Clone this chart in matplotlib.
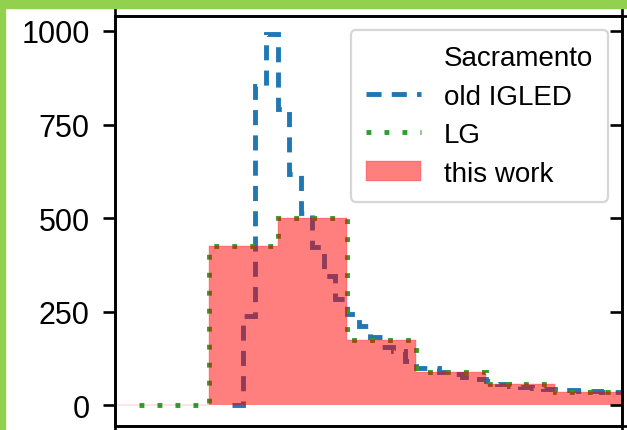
import numpy as np
import matplotlib.pyplot as plt
from matplotlib.lines import Line2D
from matplotlib.patches import Rectangle

# ---------------------------------------------------------
# Counts per bin
# ---------------------------------------------------------
# coarse bins (width 1) used by LG and this work
lg_start = 0.0
lg_counts = [0, 426, 500, 176, 90, 58, 36, 30]

work_start = -1.0
work_counts = [0, 0, 426, 500, 176, 90, 58, 36, 30]

# old IGLED has finer bins (width 1/6)
igled_start = 4 / 3
igled_counts = [0, 238, 853, 992, 791, 617, 515, 422, 346, 283,
                245, 213, 183, 155, 145, 118, 101, 99, 88, 84,
                77, 70, 64, 57, 52, 49, 46, 44, 42, 40,
                39, 38, 37, 36, 35]

yticks = [0, 250, 500, 750, 1000]
labels = ['Sacramento', 'old IGLED', 'LG', 'this work']

lg_edges = lg_start + np.arange(len(lg_counts) + 1)
work_edges = work_start + np.arange(len(work_counts) + 1)
igled_edges = igled_start + np.arange(len(igled_counts) + 1) / 6

plt.rcParams['font.family'] = ['Liberation Sans', 'DejaVu Sans']

W, H = 627, 431
fig = plt.figure(figsize=(W / 100, H / 100), dpi=100)
left, right, bottom, top = 115 / W, 622 / W, 1 - 427 / H, 1 - 17 / H
ax = fig.add_axes([left, bottom, right - left, top - bottom])

lw = 3.5
h0, = ax.plot([], [], ' ', label=labels[0])
h1 = ax.stairs(igled_counts, igled_edges, color='#1f77b4', lw=lw,
               linestyle=(0, (3.1, 2.1)), label=labels[1])
h2 = ax.stairs(lg_counts, lg_edges, color='#2ca02c', lw=lw,
               linestyle=(0, (1.0, 2.7)), label=labels[2])
h3 = ax.stairs(work_counts, work_edges, fill=True, facecolor='red',
               edgecolor='red', lw=0.3, alpha=0.5, zorder=3, label=labels[3])

ylim = (-55, 1040)
ax.set_xlim(-0.35, 6.97)
ax.set_ylim(*ylim)
ax.set_xticks([])
ax.set_yticks(yticks)
ax.tick_params(axis='y', labelsize=22, length=8.6, width=1.9, pad=9.5)
for s in ax.spines.values():
    s.set_linewidth(1.9)

# ticks on the right edge point inwards
ax2 = ax.twinx()
ax2.set_ylim(*ylim)
ax2.set_yticks(yticks)
ax2.tick_params(axis='y', direction='in', length=8.6, width=1.9, labelright=False)
for s in ax2.spines.values():
    s.set_linewidth(1.9)

leg = ax.legend(handles=[h0, h1, h2, h3], loc='upper right', fontsize=20,
                labelspacing=0.45, handlelength=2.0, borderpad=0.55)
leg.get_frame().set_linewidth(1.6)
leg.set_zorder(5)

# spine pieces of neighbouring panels that show in the crop
lk = dict(transform=fig.transFigure, color='black', lw=1.9)
fig.add_artist(Line2D([left, left], [top, 1 - 9 / H], **lk))
fig.add_artist(Line2D([left, left], [0, bottom], **lk))
fig.add_artist(Line2D([right, right], [top, 1], **lk))
fig.add_artist(Line2D([right, right], [0, bottom], **lk))
fig.add_artist(Line2D([right, 1], [top, top], **lk))
fig.add_artist(Line2D([right, 1], [bottom, bottom], **lk))

# green frame around the crop
green = '#92D050'
fig.add_artist(Rectangle((0, 1 - 9 / H), 1, 9 / H, transform=fig.transFigure,
                         color=green, zorder=10))
fig.add_artist(Rectangle((0, 0), 5 / W, 1, transform=fig.transFigure,
                         color=green, zorder=10))

fig.savefig('out.png', dpi=100)
